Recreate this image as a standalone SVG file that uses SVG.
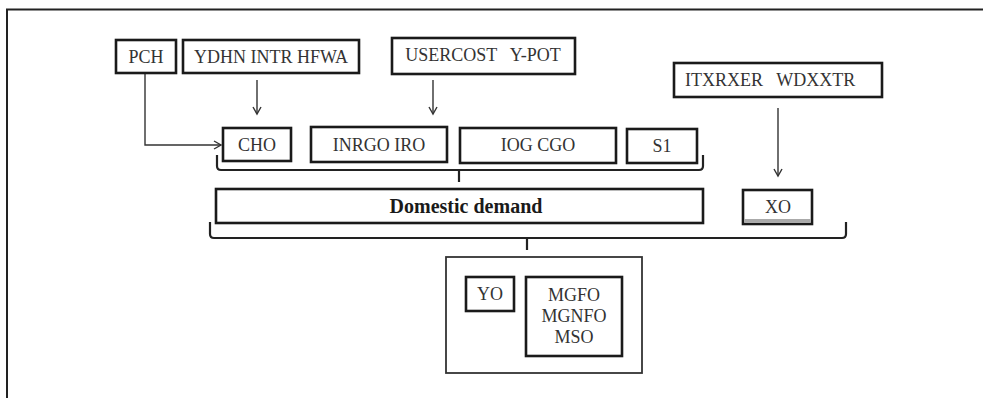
<svg xmlns="http://www.w3.org/2000/svg" width="983" height="398" viewBox="0 0 983 398">
<style>
.box{fill:#fff;stroke:#1a1a1a;stroke-width:2.6}
.frame{fill:#fff;stroke:#333;stroke-width:1.8}
.t{font-family:"Liberation Serif","Times New Roman",serif;font-size:18px;fill:#333;text-anchor:middle}
.b{font-weight:bold;font-size:20px;fill:#1a1a1a}
.arrow{fill:none;stroke:#333;stroke-width:1.4;marker-end:url(#ah)}
.brace{fill:none;stroke:#222;stroke-width:2.2}
</style>
<defs>
<marker id="ah" markerWidth="10" markerHeight="10" refX="8" refY="5" orient="auto" markerUnits="userSpaceOnUse">
<polyline points="1,1 8,5 1,9" fill="none" stroke="#333" stroke-width="1.4"/>
</marker>
</defs>
<rect width="983" height="398" fill="#fff"/>
<g id="outer-frame">
<polyline points="7,398 7,9.5 983,9.5" fill="none" stroke="#222" stroke-width="2"/>
</g>
<g id="connectors">
<polyline class="arrow" points="145,73 145,145 221,145"/>
<line class="arrow" x1="257" y1="80" x2="257" y2="114"/>
<line class="arrow" x1="433" y1="80" x2="433" y2="114"/>
<line class="arrow" x1="778" y1="108" x2="778" y2="176"/>
<path class="brace" d="M217,155 V166 Q217,170 221,170 H699 Q703,170 703,166 V155 M459,170 V182"/>
<path class="brace" d="M210,222 V234 Q210,238 214,238 H842 Q846,238 846,234 V222 M527,238 V250"/>
</g>
<g id="PCH"><rect class="box" x="116" y="40" width="60" height="33"/><text class="t" x="146" y="63">PCH</text></g>
<g id="YDHN"><rect class="box" x="183" y="40" width="176" height="33"/><text class="t" x="271" y="63">YDHN INTR HFWA</text></g>
<g id="USERCOST"><rect class="box" x="392" y="38" width="183" height="36"/><text class="t" x="483" y="61" xml:space="preserve">USERCOST   Y-POT</text></g>
<g id="ITXRXER"><rect class="box" x="674" y="63" width="208" height="34"/><text class="t" x="685" y="86" style="text-anchor:start" xml:space="preserve">ITXRXER   WDXXTR</text></g>
<g id="CHO"><rect class="box" x="223" y="128" width="68" height="33"/><text class="t" x="257" y="151">CHO</text></g>
<g id="INRGO"><rect class="box" x="311" y="127" width="136" height="35"/><text class="t" x="379" y="151">INRGO IRO</text></g>
<g id="IOG"><rect class="box" x="460" y="128" width="156" height="35"/><text class="t" x="538" y="151">IOG CGO</text></g>
<g id="S1"><rect class="box" x="627" y="129" width="70" height="34"/><text class="t" x="662" y="152">S1</text></g>
<g id="domestic"><rect class="box" x="216" y="189" width="487" height="34"/><text class="t b" x="466" y="213">Domestic demand</text></g>
<g id="XO"><rect class="box" x="743" y="190" width="69" height="34"/><rect x="744.3" y="219" width="66.4" height="3.7" fill="#aaa"/><text class="t" x="778" y="213">XO</text></g>
<g id="output"><rect class="frame" x="446" y="257" width="196" height="116"/></g>
<g id="YO"><rect class="box" x="466" y="277" width="48" height="34"/><text class="t" x="490" y="300">YO</text></g>
<g id="MGFO"><rect class="box" x="526" y="277" width="96" height="79"/><text class="t" x="574" y="301">MGFO</text><text class="t" x="574" y="322">MGNFO</text><text class="t" x="574" y="343">MSO</text></g>
</svg>
